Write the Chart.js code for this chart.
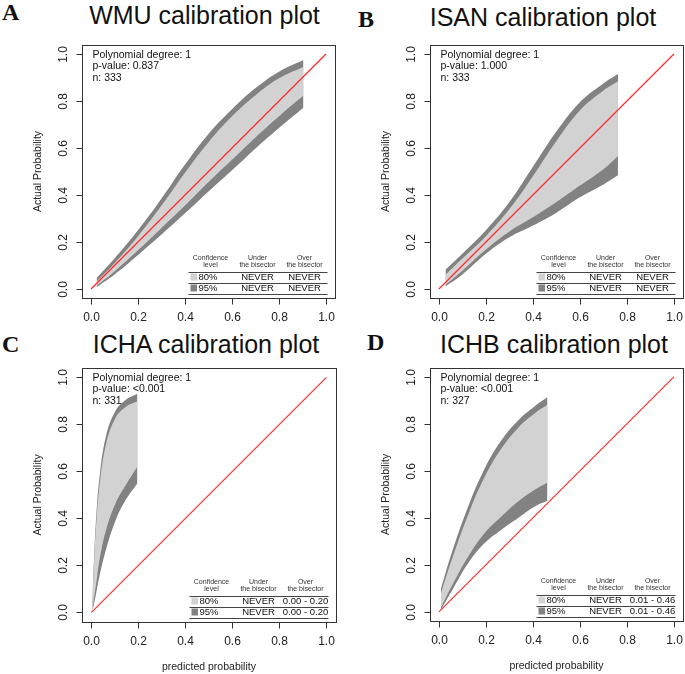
<!DOCTYPE html>
<html><head><meta charset="utf-8">
<script src="https://cdn.jsdelivr.net/npm/chart.js@4/dist/chart.umd.min.js"></script>
<style>
html,body{margin:0;padding:0;background:#fff;width:685px;height:674px;overflow:hidden;position:relative;font-family:"Liberation Sans",Arial,sans-serif}
canvas{position:absolute;left:0;top:0}
.ttl{position:absolute;font-size:25px;color:#111;white-space:nowrap;transform:translateX(-50%);line-height:1}
.lt{position:absolute;font-family:"Liberation Serif","Times New Roman",serif;font-weight:bold;font-size:24px;color:#111;line-height:1}
</style></head><body>
<div class="lt" style="left:2px;top:0px">A</div>
<div class="lt" style="left:358px;top:7px">B</div>
<div class="lt" style="left:2px;top:332px">C</div>
<div class="lt" style="left:367px;top:330px">D</div>
<div class="ttl" style="left:204.5px;top:3px">WMU calibration plot</div>
<div class="ttl" style="left:543px;top:5px">ISAN calibration plot</div>
<div class="ttl" style="left:206px;top:332px">ICHA calibration plot</div>
<div class="ttl" style="left:554px;top:332px">ICHB calibration plot</div>
<canvas id="cA" width="685" height="674"></canvas>
<canvas id="cB" width="685" height="674"></canvas>
<canvas id="cC" width="685" height="674"></canvas>
<canvas id="cD" width="685" height="674"></canvas>
<script>
// ---- tick labels ----
const tickValues = [0, 0.2, 0.4, 0.6, 0.8, 1.0];
const tickLabels = ["0.0", "0.2", "0.4", "0.6", "0.8", "1.0"];
const bisector = [[0, 0], [1, 1]];

// ---- WMU (A) ----
const wmuX       = [0.024, 0.1, 0.2, 0.3, 0.4, 0.5, 0.6, 0.7, 0.8, 0.904];
const wmuUpper95 = [0.047, 0.13, 0.25, 0.385, 0.53, 0.66, 0.765, 0.855, 0.925, 0.975];
const wmuUpper80 = [0.032, 0.11, 0.225, 0.355, 0.495, 0.625, 0.735, 0.825, 0.897, 0.945];
const wmuLower80 = [0.014, 0.075, 0.165, 0.26, 0.355, 0.455, 0.55, 0.645, 0.735, 0.823];
const wmuLower95 = [0.008, 0.062, 0.145, 0.232, 0.322, 0.415, 0.505, 0.598, 0.685, 0.771];
const wmuNotes = ["Polynomial degree: 1", "p-value: 0.837", "n: 333"];
const wmuTable = [["80%", "NEVER", "NEVER"], ["95%", "NEVER", "NEVER"]];

// ---- ISAN (B) ----
const isanX       = [0.028, 0.1, 0.2, 0.3, 0.4, 0.5, 0.6, 0.7, 0.762];
const isanUpper95 = [0.082, 0.15, 0.25, 0.37, 0.52, 0.67, 0.795, 0.875, 0.915];
const isanUpper80 = [0.061, 0.13, 0.225, 0.34, 0.48, 0.63, 0.76, 0.845, 0.884];
const isanLower80 = [0.018, 0.078, 0.168, 0.245, 0.305, 0.37, 0.44, 0.51, 0.565];
const isanLower95 = [0.011, 0.062, 0.15, 0.22, 0.27, 0.325, 0.39, 0.445, 0.484];
const isanNotes = ["Polynomial degree: 1", "p-value: 1.000", "n: 333"];
const isanTable = [["80%", "NEVER", "NEVER"], ["95%", "NEVER", "NEVER"]];

// ---- ICHA (C) ----
const ichaX       = [0.004, 0.013, 0.02, 0.034, 0.062, 0.104, 0.147, 0.196];
const ichaUpper95 = [0.05, 0.27, 0.40, 0.57, 0.75, 0.86, 0.905, 0.93];
const ichaUpper80 = [0.04, 0.25, 0.37, 0.535, 0.715, 0.83, 0.875, 0.898];
const ichaLower80 = [0.01, 0.075, 0.12, 0.22, 0.35, 0.467, 0.543, 0.621];
const ichaLower95 = [0.004, 0.045, 0.08, 0.153, 0.267, 0.394, 0.48, 0.55];
const ichaNotes = ["Polynomial degree: 1", "p-value: <0.001", "n: 331"];
const ichaTable = [["80%", "NEVER", "0.00 - 0.20"], ["95%", "NEVER", "0.00 - 0.20"]];

// ---- ICHB (D) ----
const ichbX       = [0.009, 0.054, 0.125, 0.195, 0.266, 0.337, 0.408, 0.462];
const ichbUpper95 = [0.10, 0.25, 0.45, 0.61, 0.73, 0.815, 0.875, 0.914];
const ichbUpper80 = [0.08, 0.22, 0.415, 0.575, 0.695, 0.783, 0.845, 0.881];
const ichbLower80 = [0.02, 0.109, 0.236, 0.336, 0.406, 0.47, 0.52, 0.551];
const ichbLower95 = [0.01, 0.088, 0.208, 0.293, 0.35, 0.40, 0.449, 0.473];
const ichbNotes = ["Polynomial degree: 1", "p-value: <0.001", "n: 327"];
const ichbTable = [["80%", "NEVER", "0.01 - 0.46"], ["95%", "NEVER", "0.01 - 0.46"]];

const LIGHT = "#d2d2d2";
const DARK = "#828282";
const FONT = '"Liberation Sans", Arial, sans-serif';

const rPlot = {
  id: "rPlot",
  afterDatasetsDraw(chart, args, o) {
    const ctx = chart.ctx, a = chart.chartArea, xs = chart.scales.x, ys = chart.scales.y;
    const line = (x1, y1, x2, y2) => { ctx.beginPath(); ctx.moveTo(x1, y1); ctx.lineTo(x2, y2); ctx.stroke(); };
    ctx.save();
    const L = Math.round(a.left) + 0.5, T = Math.round(a.top) + 0.5, Rr = Math.round(a.right) + 0.5, Bb = Math.round(a.bottom) + 0.5;
    ctx.strokeStyle = "#333"; ctx.lineWidth = 1;
    ctx.strokeRect(L, T, Rr - L, Bb - T);
    // axes
    ctx.fillStyle = "#222";
    ctx.font = "12px " + FONT;
    ctx.textAlign = "center"; ctx.textBaseline = "middle";
    tickValues.forEach((v, i) => {
      const px = Math.round(xs.getPixelForValue(v)) + 0.5;
      line(px, Bb, px, Bb + 6);
      ctx.fillText(tickLabels[i], px, Bb + 19);
      const py = Math.round(ys.getPixelForValue(v)) + 0.5;
      line(L - 6, py, L, py);
      ctx.save(); ctx.translate(L - 18.5, py); ctx.rotate(-Math.PI / 2);
      ctx.fillText(tickLabels[i], 0, 0); ctx.restore();
    });
    ctx.font = "10.5px " + FONT;
    ctx.save(); ctx.translate(L - 44, (ys.getPixelForValue(0) + ys.getPixelForValue(1)) / 2);
    ctx.rotate(-Math.PI / 2); ctx.fillText("Actual Probability", 0, 0); ctx.restore();
    if (o.xTitle) ctx.fillText("predicted probability", (xs.getPixelForValue(0) + xs.getPixelForValue(1)) / 2, Bb + 45);
    // notes
    ctx.font = "10.5px " + FONT; ctx.textAlign = "left"; ctx.fillStyle = "#111";
    o.notes.forEach((t, i) => ctx.fillText(t, L + 10, T + 9.5 + i * 11.5));
    // table
    const R = Rr, B = Bb;
    ctx.fillStyle = "#333"; ctx.textAlign = "center"; ctx.font = "7px " + FONT;
    const cConf = R - 125, cU = R - 78, cO = R - 31;
    ctx.fillText("Confidence", cConf, B - 40); ctx.fillText("level", cConf, B - 33);
    ctx.fillText("Under", cU, B - 40); ctx.fillText("the bisector", cU, B - 33);
    ctx.fillText("Over", cO, B - 40); ctx.fillText("the bisector", cO, B - 33);
    ctx.strokeStyle = "#444";
    [B - 27, B - 16, B - 5].forEach(yy => line(R - 147, Math.round(yy) + 0.5, R - 8, Math.round(yy) + 0.5));
    ctx.font = "9.5px " + FONT; ctx.fillStyle = "#111";
    o.table.forEach((row, i) => {
      const cy = B - 21.5 + i * 11;
      ctx.fillStyle = i === 0 ? LIGHT : DARK;
      ctx.fillRect(R - 145, cy - 3.5, 6.5, 7);
      ctx.fillStyle = "#111";
      ctx.textAlign = "left"; ctx.fillText(row[0], R - 137, cy);
      ctx.textAlign = "center"; ctx.fillText(row[1], cU, cy); ctx.fillText(row[2], cO, cy);
    });
    ctx.restore();
  }
};

function bands(xv, u95, u80, l80, l95) {
  const pts = yv => xv.map((x, i) => ({ x: x, y: yv[i] }));
  const band = { borderWidth: 0, borderColor: "transparent", pointRadius: 0, tension: 0.4 };
  return [
    { data: bisector.map(p => ({ x: p[0], y: p[1] })), borderColor: "#ff2a2a", borderWidth: 1.2, pointRadius: 0, fill: false, tension: 0 },
    Object.assign({ data: pts(u80), backgroundColor: LIGHT, fill: "+1" }, band),
    Object.assign({ data: pts(l80), fill: false }, band),
    Object.assign({ data: pts(u95), backgroundColor: DARK, fill: "+1" }, band),
    Object.assign({ data: pts(l95), fill: false }, band)
  ];
}

function make(id, area, ds, notes, table, xTitle) {
  new Chart(document.getElementById(id), {
    type: "line",
    data: { datasets: ds },
    options: {
      responsive: false, animation: false, devicePixelRatio: 1,
      layout: { padding: { left: area[0], top: area[1], right: 685 - area[2], bottom: 674 - area[3] } },
      scales: {
        x: { type: "linear", min: -0.04, max: 1.04, display: false },
        y: { type: "linear", min: -0.04, max: 1.04, display: false }
      },
      plugins: { legend: { display: false }, tooltip: { enabled: false },
        rPlot: { notes: notes, table: table, xTitle: xTitle } }
    },
    plugins: [rPlot]
  });
}

make("cA", [81.6, 44.6, 335.4, 298.4], bands(wmuX, wmuUpper95, wmuUpper80, wmuLower80, wmuLower95), wmuNotes, wmuTable, false);
make("cB", [429.5, 44.6, 683.3, 298.4], bands(isanX, isanUpper95, isanUpper80, isanLower80, isanLower95), isanNotes, isanTable, false);
make("cC", [82, 368, 335.8, 621.8], bands(ichaX, ichaUpper95, ichaUpper80, ichaLower80, ichaLower95), ichaNotes, ichaTable, true);
make("cD", [429.5, 367.5, 683.3, 621.3], bands(ichbX, ichbUpper95, ichbUpper80, ichbLower80, ichbLower95), ichbNotes, ichbTable, true);
</script>
</body></html>
